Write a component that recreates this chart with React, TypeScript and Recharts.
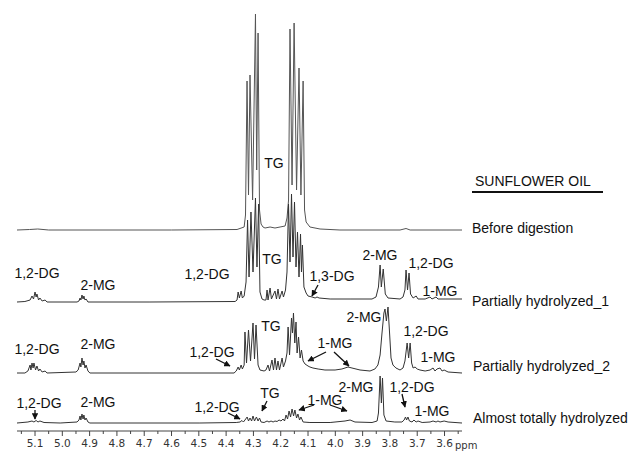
import React from "react";
import { LineChart, Line, XAxis, YAxis } from "recharts";

// ppm tick positions (major = labelled, every 0.1; minor every 0.05)
const TICKS = [5.15, 5.1, 5.05, 5.0, 4.95, 4.9, 4.85, 4.8, 4.75, 4.7, 4.65, 4.6, 4.55, 4.5, 4.45, 4.4, 4.35, 4.3, 4.25, 4.2, 4.15, 4.1, 4.05, 4.0, 3.95, 3.9, 3.85, 3.8, 3.75, 3.7, 3.65, 3.6, 3.55];
const MAJOR = ["5.1", "5.0", "4.9", "4.8", "4.7", "4.6", "4.5", "4.4", "4.3", "4.2", "4.1", "4.0", "3.9", "3.8", "3.7", "3.6"];

// Spectra: [ppm, intensity] (intensity in arbitrary units above each trace's baseline)
const BEFORE: [number, number][] = [
  [5.166, 0], [5.12, 0.5], [5.09, 1], [5.05, 0], [4.6, 0], [4.36, 0.5], [4.334, 3], [4.329, 15],
  [4.3234, 149], [4.318, 35], [4.3125, 155], [4.303, 30], [4.2925, 216], [4.288, 60], [4.283, 197],
  [4.2777, 20], [4.272, 6], [4.265, 3], [4.2575, 2], [4.239, 3], [4.221, 2], [4.2025, 3], [4.184, 4],
  [4.177, 12], [4.1713, 30], [4.166, 201], [4.1585, 45], [4.151, 207], [4.142, 40], [4.133, 162],
  [4.126, 35], [4.118, 149], [4.1127, 20], [4.107, 8], [4.093, 3], [4.056, 1], [3.983, 0], [3.763, 0],
  [3.741, 1.5], [3.726, 0], [3.536, 0],
];

const PARTIAL1: [number, number][] = [
  [5.166, 0], [5.137, 0.5], [5.118, 2], [5.111, 6], [5.1055, 3], [5.1, 10], [5.096, 5], [5.093, 8],
  [5.087, 2], [5.082, 4], [5.074, 1], [5.063, 2], [5.056, 0], [4.946, 0], [4.939, 1], [4.935, 4],
  [4.932, 2], [4.928, 7], [4.924, 3], [4.921, 6], [4.917, 2], [4.913, 3], [4.906, 0], [4.679, 0],
  [4.367, 0.5], [4.36, 2], [4.356, 10], [4.3515, 4], [4.345, 11], [4.3405, 4], [4.334, 6], [4.327, 20],
  [4.3215, 82], [4.316, 25], [4.309, 90], [4.3015, 30], [4.2925, 104], [4.287, 35], [4.281, 98],
  [4.276, 10], [4.2685, 3], [4.261, 2], [4.254, 2], [4.25, 12], [4.2465, 2], [4.239, 14], [4.234, 3],
  [4.221, 11], [4.2155, 3], [4.21, 13], [4.2045, 3], [4.195, 11], [4.19, 5], [4.1825, 12], [4.177, 30],
  [4.1715, 98], [4.166, 40], [4.1605, 108], [4.155, 45], [4.1495, 100], [4.144, 35], [4.1385, 70],
  [4.133, 25], [4.1275, 68], [4.124, 30], [4.1205, 57], [4.115, 15], [4.107, 9], [4.1, 6], [4.085, 5],
  [4.074, 4], [4.067, 5], [4.0595, 4], [4.019, 3], [3.946, 3], [3.8656, 3], [3.851, 5], [3.842, 15],
  [3.836, 37], [3.8315, 15], [3.8245, 33], [3.817, 8], [3.807, 4], [3.763, 3], [3.752, 5], [3.745, 12],
  [3.741, 32], [3.7355, 12], [3.73, 29], [3.7245, 8], [3.715, 4], [3.704, 6], [3.697, 3], [3.671, 3],
  [3.653, 5], [3.646, 3], [3.631, 5], [3.624, 3], [3.598, 3], [3.536, 3],
];

const PARTIAL2: [number, number][] = [
  [5.166, 0], [5.137, 0], [5.126, 2], [5.118, 8], [5.115, 3], [5.111, 10], [5.107, 5], [5.104, 10],
  [5.098, 3], [5.093, 7], [5.087, 2], [5.082, 4], [5.074, 1], [5.063, 2], [5.056, 0], [4.95, 1],
  [4.942, 3], [4.935, 10], [4.932, 6], [4.928, 15], [4.924, 8], [4.921, 12], [4.917, 5], [4.913, 8],
  [4.906, 2], [4.899, 0], [4.679, 0], [4.371, 0], [4.363, 2], [4.356, 6], [4.3515, 3], [4.345, 8],
  [4.3405, 4], [4.334, 8], [4.331, 41], [4.3253, 10], [4.318, 43], [4.3106, 12], [4.3015, 50],
  [4.296, 14], [4.2905, 48], [4.283, 8], [4.276, 3], [4.261, 2], [4.254, 3], [4.2465, 8], [4.241, 2],
  [4.232, 13], [4.2265, 3], [4.221, 15], [4.2155, 3], [4.21, 12], [4.2045, 3], [4.195, 15], [4.19, 6],
  [4.1825, 12], [4.177, 20], [4.173, 46], [4.1677, 18], [4.1605, 55], [4.157, 40], [4.1533, 60],
  [4.1485, 30], [4.144, 51], [4.14, 20], [4.1347, 36], [4.129, 15], [4.124, 23], [4.118, 12],
  [4.111, 9], [4.1, 7], [4.093, 6], [4.082, 5], [4.063, 4], [4.038, 3], [4.001, 3], [3.976, 4],
  [3.9535, 6], [3.939, 5], [3.9095, 3], [3.873, 2], [3.855, 4], [3.844, 8], [3.836, 18], [3.829, 40],
  [3.822, 60], [3.818, 64], [3.813, 52], [3.807, 66], [3.8013, 40], [3.796, 15], [3.789, 8], [3.778, 5],
  [3.763, 3], [3.752, 5], [3.745, 12], [3.737, 30], [3.7315, 15], [3.726, 30], [3.7205, 10], [3.715, 5],
  [3.708, 6], [3.7, 4], [3.69, 3], [3.671, 2], [3.653, 3], [3.642, 5], [3.635, 2], [3.6275, 4],
  [3.6165, 5], [3.609, 2], [3.6015, 3], [3.587, 1], [3.536, 0],
];

const ALMOST: [number, number][] = [
  [5.166, 0], [5.126, 1], [5.111, 2], [5.104, 1], [5.096, 2.5], [5.089, 1], [5.082, 2], [5.067, 0.5],
  [5.008, 0], [4.946, 1], [4.939, 3], [4.935, 7], [4.932, 3], [4.928, 9], [4.924, 4], [4.921, 8],
  [4.917, 3], [4.913, 5], [4.906, 1], [4.899, 0], [4.496, 0], [4.363, 0.5], [4.349, 1], [4.342, 2.5],
  [4.3367, 1], [4.331, 3], [4.323, 6], [4.318, 2], [4.3125, 5], [4.3066, 2], [4.3015, 7], [4.296, 2],
  [4.289, 6], [4.283, 2], [4.2777, 5], [4.272, 1], [4.261, 0.5], [4.25, 2], [4.243, 1], [4.2355, 2],
  [4.228, 1], [4.221, 2], [4.2135, 1.5], [4.206, 3], [4.199, 2], [4.1915, 4], [4.186, 2], [4.1805, 8],
  [4.175, 4], [4.1695, 12], [4.164, 6], [4.1585, 14], [4.153, 7], [4.148, 13], [4.142, 5], [4.137, 9],
  [4.131, 3], [4.126, 6], [4.118, 1], [4.093, 0.5], [4.019, 0.5], [3.9645, 2], [3.946, 3], [3.928, 1],
  [3.8656, 0.5], [3.847, 2], [3.842, 10], [3.836, 47], [3.8313, 20], [3.8272, 45], [3.822, 8],
  [3.814, 2], [3.782, 1], [3.756, 1], [3.748, 3], [3.743, 6], [3.739, 3], [3.734, 6], [3.7286, 2],
  [3.719, 1], [3.712, 3], [3.704, 1], [3.697, 2], [3.682, 0.5], [3.653, 1], [3.642, 2], [3.631, 1],
  [3.624, 2], [3.6165, 1], [3.6015, 2], [3.587, 1], [3.536, 0],
];

const SERIES_NAMES = ["Before digestion", "Partially hydrolyzed_1", "Partially hydrolyzed_2", "Almost totally hydrolyzed"];

const toPts = (a: [number, number][]) => a.map(([x, y]) => ({ x, y }));

const W = 634;
const H = 451;
const PLOT_BOTTOM = 431;
// pixel baseline of each trace within the plot
const BASES = [230, 302, 373, 423];

const FONT = "'Liberation Sans', Arial, sans-serif";

const Tick = (props: any) => {
  const { x, y, payload } = props;
  const v = payload.value as number;
  const lbl = v.toFixed(1);
  const major = Math.abs(v * 10 - Math.round(v * 10)) < 1e-6 && MAJOR.includes(lbl);
  return (
    <g>
      <line x1={x} x2={x} y1={y} y2={y + (major ? 5 : 3)} stroke="#444" strokeWidth={1} />
      {major && (
        <text x={x} y={y + 12} textAnchor="middle" dominantBaseline="central" fontSize={10.5} fill="#333" fontFamily="'DejaVu Sans', Verdana, sans-serif">
          {lbl}
        </text>
      )}
    </g>
  );
};

type Lbl = [string, number, number];
const LABELS: Lbl[] = [
  ["TG", 274, 163],
  ["1,2-DG", 37, 273], ["2-MG", 98, 285], ["1,2-DG", 207, 274], ["TG", 272, 259], ["1,3-DG", 332, 276],
  ["2-MG", 380, 255], ["1,2-DG", 431, 263], ["1-MG", 440, 291],
  ["1,2-DG", 37, 349], ["2-MG", 98, 344], ["1,2-DG", 212, 352], ["TG", 271, 326], ["1-MG", 335, 343],
  ["2-MG", 364, 317], ["1,2-DG", 426, 331], ["1-MG", 438, 357],
  ["1,2-DG", 39, 403], ["2-MG", 98, 402], ["1,2-DG", 217, 407], ["TG", 270, 393], ["1-MG", 325, 400],
  ["2-MG", 356, 387], ["1,2-DG", 412, 387], ["1-MG", 432, 411],
];
const ARROWS: [number, number, number, number][] = [
  [318, 285, 312, 296],
  [216, 359, 230, 366],
  [326, 352, 308, 361],
  [334, 352, 349, 366],
  [35, 410, 35, 419],
  [228, 413, 240, 419],
  [267, 401, 262, 411],
  [314, 405, 299, 410],
  [330, 405, 347, 411],
  [402, 394, 405, 407],
];
const NAME_POS: [number, number][] = [[472, 228], [472, 301], [473, 366], [473, 418]];

export default function App() {
  const traces = [BEFORE, PARTIAL1, PARTIAL2, ALMOST];
  const colors = ["#555", "#333", "#333", "#333"];
  return (
    <div style={{ position: "relative", width: W, height: H, background: "#fff" }}>
      <style>{"body{margin:0;background:#fff}"}</style>
      <div style={{ position: "absolute", left: 0, top: 0 }}>
        <LineChart width={W} height={H} margin={{ top: 0, right: 172, bottom: 0, left: 17 }}>
          <XAxis
            type="number"
            dataKey="x"
            domain={[3.536, 5.166]}
            reversed
            allowDataOverflow
            ticks={TICKS}
            interval={0}
            height={20}
            tickSize={0}
            tickMargin={0}
            tickLine={false}
            tick={<Tick />}
            axisLine={{ stroke: "#444", strokeWidth: 1 }}
          />
          {BASES.map((b, i) => (
            <YAxis key={i} yAxisId={`s${i}`} hide type="number" domain={[-(PLOT_BOTTOM - b), b]} allowDataOverflow />
          ))}
          {traces.map((t, i) => (
            <Line
              key={i}
              yAxisId={`s${i}`}
              data={toPts(t)}
              dataKey="y"
              name={SERIES_NAMES[i]}
              type="linear"
              stroke={colors[i]}
              strokeWidth={1}
              dot={false}
              activeDot={false}
              isAnimationActive={false}
            />
          ))}
        </LineChart>
      </div>
      <svg width={W} height={H} style={{ position: "absolute", left: 0, top: 0, pointerEvents: "none" }}>
        <defs>
          <marker id="ah" viewBox="0 0 10 10" refX="9" refY="5" markerWidth="5" markerHeight="5" orient="auto">
            <path d="M0,0 L10,5 L0,10 z" fill="#111" />
          </marker>
        </defs>
        {LABELS.map(([t, x, y], i) => (
          <text key={i} x={x} y={y} textAnchor="middle" dominantBaseline="central" fontSize={14} fill="#111" fontFamily={FONT}>
            {t}
          </text>
        ))}
        {ARROWS.map(([x1, y1, x2, y2], i) => (
          <line key={i} x1={x1} y1={y1} x2={x2} y2={y2} stroke="#111" strokeWidth={1.3} markerEnd="url(#ah)" />
        ))}
        <text x={475} y={181} dominantBaseline="central" fontSize={14} fill="#111" fontFamily={FONT}>SUNFLOWER OIL</text>
        <line x1={472} x2={603} y1={192} y2={192} stroke="#111" strokeWidth={2} />
        {SERIES_NAMES.map((n, i) => (
          <text key={n} x={NAME_POS[i][0]} y={NAME_POS[i][1]} dominantBaseline="central" fontSize={14} fill="#111" fontFamily={FONT}>
            {n}
          </text>
        ))}
        <text x={455} y={445} dominantBaseline="central" fontSize={10} fill="#333" fontFamily="'DejaVu Sans', Verdana, sans-serif">ppm</text>
      </svg>
    </div>
  );
}
